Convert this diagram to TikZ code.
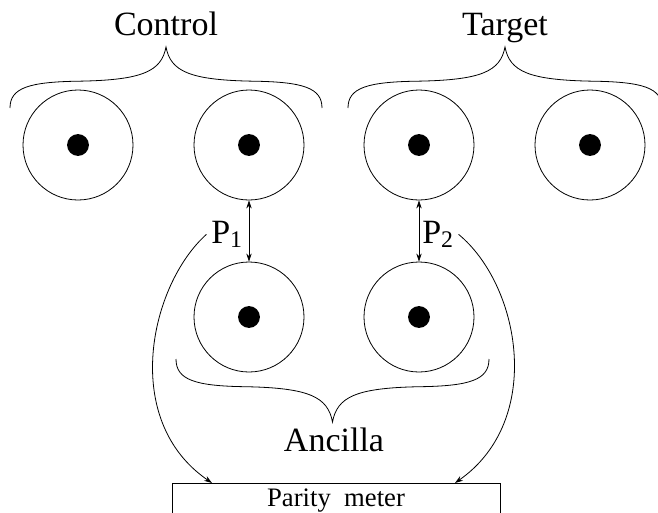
\documentclass[tikz,border=0pt]{standalone}
\usepackage{fontspec}
\setmainfont{Liberation Serif}
\usetikzlibrary{arrows.meta}

% curly brace between two ends, tip in the middle
\newcommand{\qbrace}[4]{% left x, right x, end y, tip y
  \pgfmathsetmacro{\bh}{(#2-#1)/2}
  \pgfmathsetmacro{\bm}{(#1+#2)/2}
  \pgfmathsetmacro{\bd}{#4-#3}
  \draw ({#1},{#3}) .. controls ({#1},{#3+0.33*(\bd)}) and ({#1+0.12*\bh},{#3+0.43*(\bd)}) .. ({#1+0.45*\bh},{#3+0.44*(\bd)})
    .. controls ({#1+0.85*\bh},{#3+0.46*(\bd)}) and ({\bm-0.03*\bh},{#3+0.6*(\bd)}) .. ({\bm},{#4})
    .. controls ({\bm+0.03*\bh},{#3+0.6*(\bd)}) and ({#2-0.85*\bh},{#3+0.46*(\bd)}) .. ({#2-0.45*\bh},{#3+0.44*(\bd)})
    .. controls ({#2-0.12*\bh},{#3+0.43*(\bd)}) and ({#2},{#3+0.33*(\bd)}) .. ({#2},{#3});
}

\begin{document}
\begin{tikzpicture}[x=0.75pt,y=-0.75pt,line width=0.6pt,
    qubit/.style={circle,draw,minimum size=82.5pt,inner sep=0pt},
    tipend/.style={-{Stealth[length=6pt,width=4pt]}},
    tipboth/.style={{Stealth[length=6pt,width=4pt]}-{Stealth[length=6pt,width=4pt]}},
    lbl/.style={font=\fontsize{25.5}{30}\selectfont,anchor=base}]

    % picture frame
    \useasboundingbox (0,0) rectangle (658,512);
    \clip (0,0) rectangle (658,512);

    % control and target qubits
    \foreach \name/\x in {c1/78,c2/249,c3/419,c4/590} {
        \node[qubit] (\name) at (\x,145) {};
        \fill (\name.center) circle (8.2pt);
    }

    % ancilla qubits
    \foreach \name/\x in {a1/249,a2/419} {
        \node[qubit] (\name) at (\x,317) {};
        \fill (\name.center) circle (8.2pt);
    }

    % braces and group names
    \qbrace{10}{322}{108}{47}
    \qbrace{348}{662}{108}{47}
    \qbrace{176}{489}{359}{422}
    \node[lbl] (ctrl) at (166,35) {Control};
    \node[lbl] (tgt) at (505,35) {Target};
    \node[lbl] (anc) at (334,451) {Ancilla};

    % parity couplings
    \draw[tipboth] (c2) -- (a1);
    \draw[tipboth] (c3) -- (a2);
    \node[lbl] (p1) at (227,243) {P\textsubscript{1}};
    \node[lbl] (p2) at (438,243) {P\textsubscript{2}};

    % parity meter
    \node[draw,anchor=north,minimum width=246pt,inner ysep=4pt,text height=13pt,
          text depth=10pt,font=\fontsize{20}{24}\selectfont] (meter) at (336,483) {Parity~~meter};
    \coordinate (m1) at (212,483);
    \coordinate (m2) at (455,483);
    \draw[tipend] (p1.west) .. controls (150,285) and (120,420) .. (m1);
    \draw[tipend] (p2.east) .. controls (520,285) and (545,420) .. (m2);

\end{tikzpicture}
\end{document}
